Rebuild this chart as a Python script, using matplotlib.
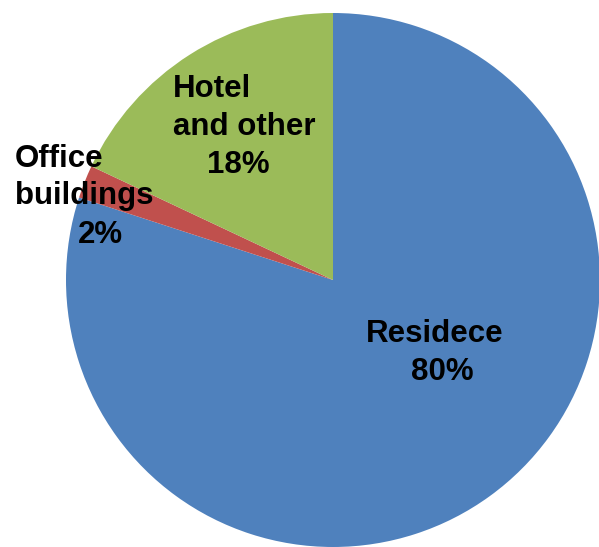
import matplotlib.pyplot as plt

# data
labels = ['Residece', 'Office buildings', 'Hotel and other']
values = [80, 2, 18]
colors = ['#4F81BD', '#C0504D', '#9BBB59']

plt.rcParams['font.family'] = ['Liberation Sans', 'DejaVu Sans']

W, H = 599, 547
fig = plt.figure(figsize=(W / 100, H / 100), dpi=100)

# pie centre (333, 280) px, radius 267 px
cx, cy, r = 333, 280, 267
ax = fig.add_axes([(cx - r) / W, (H - cy - r) / H, 2 * r / W, 2 * r / H])
ax.pie(values, colors=colors, startangle=90, counterclock=False,
       radius=1, wedgeprops=dict(linewidth=0))
ax.set_xlim(-1, 1)
ax.set_ylim(-1, 1)
ax.set_aspect('auto')
ax.axis('off')


def put(txt, x, y, ha='left'):
    fig.text(x / W, 1 - y / H, txt, ha=ha, va='baseline',
             fontsize=22.5, fontweight='bold', color='black')


pct = [f'{v}%' for v in values]

# Residence
put('Residece', 435, 342, ha='center')
put(pct[0], 442, 380, ha='center')

# Office buildings
put('Office', 15, 167)
put('buildings', 15, 204)
put(pct[1], 100, 243, ha='center')

# Hotel and other
put('Hotel', 173, 97)
put('and other', 173, 135)
put(pct[2], 238, 173, ha='center')

fig.savefig('out.png', dpi=100)
